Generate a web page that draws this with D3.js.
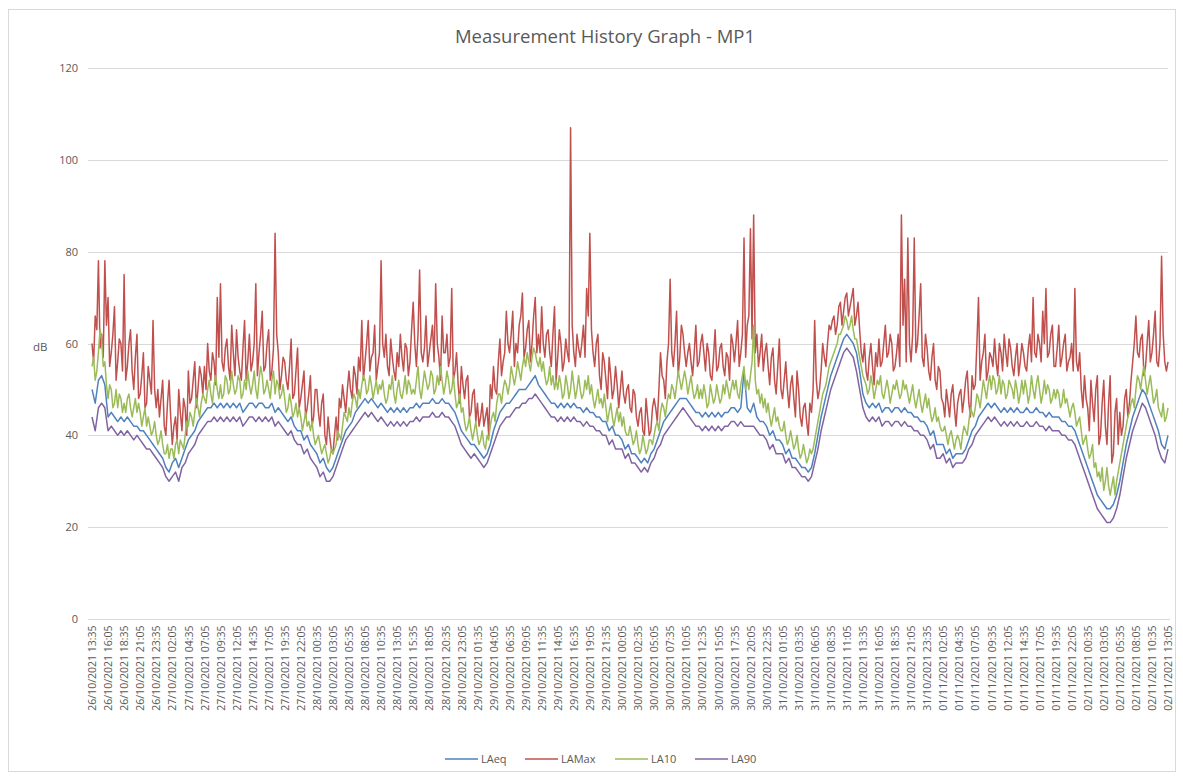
<!DOCTYPE html>
<html>
<head>
<meta charset="utf-8">
<script src="https://d3js.org/d3.v7.min.js"></script>
<style>
body { margin: 0; background: #ffffff; }
text { font-family: "Open Sans", "Liberation Sans", sans-serif; fill: #595959; }
</style>
</head>
<body>
<div id="chart"></div>
<script>
// LAeq / LA90 read every 30 minutes, LAMax / LA10 every 15 minutes,
// all starting 26/10/2021 13:35
const tickLabels = [
  "26/10/2021 13:35", "26/10/2021 16:05", "26/10/2021 18:35", "26/10/2021 21:05", "26/10/2021 23:35",
  "27/10/2021 02:05", "27/10/2021 04:35", "27/10/2021 07:05", "27/10/2021 09:35", "27/10/2021 12:05",
  "27/10/2021 14:35", "27/10/2021 17:05", "27/10/2021 19:35", "27/10/2021 22:05",
  "28/10/2021 00:35", "28/10/2021 03:05", "28/10/2021 05:35", "28/10/2021 08:05", "28/10/2021 10:35",
  "28/10/2021 13:05", "28/10/2021 15:35", "28/10/2021 18:05", "28/10/2021 20:35", "28/10/2021 23:05",
  "29/10/2021 01:35", "29/10/2021 04:05", "29/10/2021 06:35", "29/10/2021 09:05", "29/10/2021 11:35",
  "29/10/2021 14:05", "29/10/2021 16:35", "29/10/2021 19:05", "29/10/2021 21:35",
  "30/10/2021 00:05", "30/10/2021 02:35", "30/10/2021 05:05", "30/10/2021 07:35", "30/10/2021 10:05",
  "30/10/2021 12:35", "30/10/2021 15:05", "30/10/2021 17:35", "30/10/2021 20:05", "30/10/2021 22:35",
  "31/10/2021 01:05", "31/10/2021 03:35", "31/10/2021 06:05", "31/10/2021 08:35", "31/10/2021 11:05",
  "31/10/2021 13:35", "31/10/2021 16:05", "31/10/2021 18:35", "31/10/2021 21:05", "31/10/2021 23:35",
  "01/11/2021 02:05", "01/11/2021 04:35", "01/11/2021 07:05", "01/11/2021 09:35", "01/11/2021 12:05",
  "01/11/2021 14:35", "01/11/2021 17:05", "01/11/2021 19:35", "01/11/2021 22:05",
  "02/11/2021 00:35", "02/11/2021 03:05", "02/11/2021 05:35", "02/11/2021 08:05", "02/11/2021 10:35",
  "02/11/2021 13:05"
];
const tickStepMinutes = 150;

const yTicks = [0, 20, 40, 60, 80, 100, 120];

const laeq = [
  50,47,52,53,51, 44,45,44,43,44, 43,44,43,42,42, 41,41,40,39,38, 37,36,35,33,32,
  34,35,33,35,37, 39,40,41,43,44, 45,46,46,47,46, 47,46,47,46,47, 46,47,45,46,47,
  47,46,47,47,46, 46,47,45,46,45, 44,43,44,42,41, 41,39,40,38,37, 36,34,35,33,32,
  33,35,37,39,41, 42,43,45,46,47, 48,47,48,47,46, 47,46,45,46,45, 46,45,46,45,46,
  46,47,46,47,47, 47,48,47,47,48, 47,47,46,45,43, 41,40,39,38,38, 37,36,35,36,38,
  41,43,45,46,47, 47,48,49,50,50, 50,51,52,53,51, 50,49,48,47,47, 46,47,46,47,46,
  47,46,46,45,46, 45,45,44,44,43, 43,41,42,40,40, 39,37,38,36,36, 35,34,35,34,36,
  37,39,41,43,44, 45,46,47,48,48, 48,47,46,45,45, 44,45,44,45,44, 45,44,45,45,46,
  46,45,46,54,46, 45,47,44,43,43, 42,40,41,39,39, 38,36,37,35,35, 34,33,33,32,33,
  36,40,44,47,50, 53,55,57,59,61, 62,61,60,58,54, 49,47,46,47,46, 47,45,46,46,45,
  46,46,45,46,45, 45,44,44,43,43, 42,40,41,38,38, 38,36,37,35,36, 36,36,37,39,41,
  42,44,45,46,47, 46,47,46,45,46, 45,46,45,46,45, 45,46,45,45,46, 45,45,44,45,44,
  44,44,43,43,42, 42,41,39,37,35, 33,31,29,27,26, 25,24,24,25,27, 30,34,38,41,44,
  46,48,50,49,47, 45,43,41,38,37, 40
];

const lamax = [
  60,56,66,63,78,59,62,57,78,64, 70,55,58,62,68,52,56,61,60,54,
  75,52,55,60,63,54,50,57,62,48, 49,53,58,46,47,55,52,49,65,50,
  46,50,44,48,52,42,40,47,52,44, 38,42,44,39,50,45,41,48,46,40,
  54,47,48,52,56,46,50,55,53,49, 55,50,60,54,52,58,56,51,70,57,
  73,56,54,59,61,55,52,64,58,53, 63,57,54,52,59,65,52,56,62,54,
  56,60,73,53,58,62,67,54,55,60, 63,52,54,59,84,62,58,50,53,57,
  56,52,50,55,61,48,49,54,59,46, 48,51,54,44,46,49,53,42,44,50,
  50,45,42,47,49,40,38,44,40,37, 36,40,44,39,48,46,51,48,45,50,
  54,50,48,55,53,49,57,54,65,52, 56,60,65,54,57,58,64,52,55,58,
  78,60,57,62,55,53,61,57,54,52, 58,55,62,57,54,60,59,53,56,63,
  69,60,55,62,76,58,56,59,66,55, 58,61,64,56,73,60,57,52,66,58,
  58,62,55,57,72,52,54,58,51,47, 55,51,48,52,53,44,45,49,50,43,
  47,42,44,47,42,44,46,40,51,48, 55,50,49,56,61,53,56,58,67,60,
  58,62,67,55,60,58,64,66,71,57, 59,63,65,56,60,66,70,58,62,58,
  68,60,57,62,63,58,55,62,68,52, 57,63,60,54,56,61,58,56,107,64,
  58,55,62,59,57,60,64,57,72,66, 84,63,58,55,60,62,53,50,58,56,
  52,48,57,53,48,50,55,51,46,50, 54,49,47,50,51,46,45,50,49,44,
  42,45,46,41,40,48,44,40,41,46, 48,46,43,50,58,53,52,48,56,60,
  74,58,55,60,67,53,57,64,62,58, 55,58,60,56,53,58,64,55,56,60,
  62,58,54,60,58,53,52,57,63,54, 55,59,60,55,53,58,57,52,62,60,
  56,60,65,55,58,62,83,57,64,66, 85,61,88,58,62,55,58,62,54,58,
  60,55,51,57,59,52,49,55,61,50, 48,52,56,50,46,51,53,48,44,54,
  50,44,42,46,47,43,40,47,45,50, 65,52,48,50,54,60,57,55,60,64,
  63,65,66,62,64,68,69,64,67,70, 71,66,68,70,72,64,66,69,63,58,
  56,60,54,52,57,60,55,51,58,55, 61,55,56,60,64,57,58,62,60,54,
  55,58,62,55,88,64,74,56,83,60, 56,62,83,58,60,66,73,57,55,62,
  59,54,52,57,60,52,50,55,54,48, 47,44,50,47,44,49,51,46,42,47,
  49,50,45,48,52,54,47,44,53,50, 51,60,70,52,56,58,62,52,54,58,
  57,55,61,56,53,60,58,54,62,58, 55,61,59,55,53,57,60,53,56,60,
  58,55,54,59,62,56,70,58,57,62, 60,56,67,60,72,57,58,62,64,55,
  55,59,64,55,57,60,62,54,56,57, 60,54,72,56,54,58,50,46,53,48,
  46,41,52,47,43,50,53,38,40,47, 52,42,38,47,53,34,36,45,48,38,
  45,40,42,48,50,44,47,52,56,60, 66,58,57,61,62,53,55,60,65,56,
  58,62,67,56,55,60,79,62,56,54, 56
];

const la10 = [
  55,57,52,54,58,63,61,55,56,51, 48,51,50,46,47,50,46,49,48,45,
  47,45,48,49,46,44,46,48,45,47, 45,42,44,46,42,44,42,40,41,43,
  40,38,39,41,38,36,36,38,35,37, 37,35,38,39,36,39,38,37,40,43,
  42,45,44,42,45,48,46,44,47,49, 48,47,50,52,49,47,51,53,50,48,
  51,48,49,53,52,49,50,54,51,49, 50,53,52,48,49,52,50,54,51,49,
  51,54,50,48,52,55,53,49,50,52, 50,48,52,54,49,52,51,48,49,51,
  48,45,46,49,47,44,45,47,44,46, 44,41,43,45,42,43,41,43,40,38,
  39,40,38,36,37,38,36,34,35,37, 36,37,38,41,40,39,42,45,44,43,
  46,44,47,49,48,46,50,48,51,53, 52,49,50,53,51,48,50,52,49,51,
  50,52,49,47,48,51,50,53,49,47, 50,52,49,48,50,53,49,52,51,49,
  50,49,52,55,50,48,51,54,52,50, 51,54,53,49,50,53,51,55,52,49,
  51,54,52,49,50,53,49,46,47,49, 45,46,43,41,42,44,41,39,41,43,
  40,38,39,41,38,37,40,39,42,44, 45,43,47,49,49,47,50,52,51,49,
  51,55,53,51,53,56,54,52,55,57, 55,58,56,54,57,59,58,56,55,57,
  54,56,53,51,52,55,51,53,50,52, 50,53,51,48,49,53,51,48,50,54,
  51,48,50,53,50,48,49,52,50,53, 49,51,48,46,48,50,47,48,46,49,
  46,43,45,47,44,42,44,46,43,45, 42,44,41,40,40,42,40,38,39,41,
  38,36,37,40,38,36,37,39,39,38, 40,42,43,41,45,47,46,44,47,49,
  48,51,50,48,51,54,52,50,52,54, 52,49,51,53,50,48,49,51,48,50,
  48,51,49,46,47,51,49,47,48,51, 49,47,48,51,49,52,50,48,50,52,
  50,52,49,48,51,53,55,50,52,50, 53,56,64,52,49,50,47,49,46,48,
  45,47,44,42,44,46,43,44,42,41, 41,43,40,38,39,41,39,37,38,40,
  37,35,36,38,36,34,35,37,36,37, 39,41,43,45,47,49,50,51,53,55,
  56,57,58,59,60,62,62,63,64,66, 65,63,64,66,63,61,61,59,57,55,
  53,52,51,49,50,53,51,48,50,52, 51,53,49,48,50,52,50,47,49,51,
  50,52,50,48,49,52,50,51,49,47, 49,51,48,46,48,50,47,45,47,49,
  46,48,45,43,44,46,43,44,42,41, 41,42,40,38,40,41,39,37,39,40,
  39,37,40,42,41,40,43,46,45,44, 46,49,48,46,49,52,50,48,51,53,
  50,53,52,49,50,53,49,52,51,48, 49,52,51,50,48,52,50,47,49,52,
  49,52,50,47,49,53,50,48,51,53, 50,47,49,52,49,51,50,47,48,50,
  48,50,49,46,47,50,47,48,46,44, 46,47,45,42,43,44,41,38,39,40,
  37,35,36,38,33,34,31,32,30,33, 28,30,33,29,27,29,31,27,30,32,
  34,36,38,40,42,44,45,47,48,46, 50,53,52,50,53,55,52,49,51,53,
  50,47,48,50,46,45,44,47,43,44, 46
];

const la90 = [
  44,41,46,47,46, 41,42,41,40,41, 40,41,40,39,40, 39,38,37,37,36, 35,34,33,31,30,
  31,32,30,33,34, 36,37,38,40,41, 42,43,43,44,43, 44,43,44,43,44, 43,44,42,43,44,
  44,43,44,43,44, 43,44,42,43,42, 41,40,41,39,38, 38,36,37,35,34, 33,31,32,30,30,
  31,33,35,37,39, 40,41,42,43,44, 45,44,45,44,43, 44,43,42,43,42, 43,42,43,42,43,
  43,44,43,44,44, 44,45,44,44,45, 44,44,43,42,40, 38,37,36,35,36, 35,34,33,34,36,
  38,40,42,43,44, 44,45,46,46,47, 47,48,48,49,48, 47,46,45,44,44, 43,44,43,44,43,
  44,43,43,42,43, 42,42,41,41,40, 40,38,39,37,37, 37,35,36,34,34, 33,32,33,32,34,
  35,37,38,40,41, 42,43,44,45,46, 45,44,43,42,42, 41,42,41,42,41, 42,41,42,42,43,
  43,42,43,42,42, 42,42,41,40,40, 39,37,38,36,36, 36,34,35,33,33, 32,31,31,30,31,
  34,37,41,44,47, 50,52,54,56,58, 59,58,57,54,50, 46,44,43,44,43, 44,42,43,43,42,
  43,43,42,43,42, 42,41,41,40,40, 39,37,38,35,35, 36,34,35,33,34, 34,34,35,37,38,
  40,41,42,43,44, 43,44,43,42,43, 42,43,42,43,42, 42,43,42,42,43, 42,42,41,42,41,
  41,41,40,40,39, 39,38,36,34,32, 30,28,26,24,23, 22,21,21,22,24, 27,31,35,38,41,
  43,45,47,46,44, 42,40,37,35,34, 37
];

const seriesNames = ["LAeq", "LAMax", "LA10", "LA90"];
const seriesValues = [laeq, lamax, la10, la90];
const seriesStepMinutes = [30, 15, 15, 30];
const seriesColors = ["#4F81BD", "#C0504D", "#9BBB59", "#8064A2"];

const W = 1183, H = 779;
const margin = {left: 92, right: 15, top: 68, bottom: 160};

const svg = d3.select("#chart").append("svg")
  .attr("width", W)
  .attr("height", H);

// chart frame
svg.append("rect")
  .attr("x", 8.5).attr("y", 9.5)
  .attr("width", 1167).attr("height", 762)
  .attr("fill", "#ffffff")
  .attr("stroke", "#d9d9d9");

svg.append("text")
  .attr("x", 605).attr("y", 43)
  .attr("text-anchor", "middle")
  .style("font-size", "18.5px")
  .text("Measurement History Graph - MP1");

const totalMinutes = (tickLabels.length - 1) * tickStepMinutes;

const x = d3.scaleLinear()
  .domain([0, totalMinutes])
  .range([margin.left, W - margin.right]);

const y = d3.scaleLinear()
  .domain([0, 120])
  .range([H - margin.bottom, margin.top]);

// gridlines
svg.append("g")
  .selectAll("line")
  .data(yTicks.filter(d => d > 0))
  .join("line")
  .attr("x1", 88).attr("x2", W - margin.right)
  .attr("y1", d => Math.round(y(d)) + 0.5)
  .attr("y2", d => Math.round(y(d)) + 0.5)
  .attr("stroke", "#d9d9d9")
  .attr("stroke-width", 1);

// y axis labels
const yAxis = svg.append("g")
  .attr("transform", "translate(78,0)")
  .call(d3.axisLeft(y).tickValues(yTicks).tickSize(0).tickPadding(0));
yAxis.select(".domain").remove();
yAxis.selectAll("text")
  .style("font-size", "11px")
  .style("font-family", "'Open Sans', sans-serif")
  .attr("fill", "#595959");

svg.append("text")
  .attr("x", 33).attr("y", 351)
  .style("font-size", "11.5px")
  .text("dB");

// x axis
const xAxis = svg.append("g")
  .attr("transform", "translate(0," + (Math.round(y(0)) + 0.5) + ")")
  .call(d3.axisBottom(x)
    .tickValues(d3.range(tickLabels.length).map(i => i * tickStepMinutes))
    .tickFormat((d, i) => tickLabels[i])
    .tickSize(0));
xAxis.select(".domain")
  .attr("d", "M88,0H" + (W - margin.right + 2))
  .attr("stroke", "#d9d9d9");
xAxis.selectAll("text")
  .attr("transform", "rotate(-90)")
  .attr("x", -6)
  .attr("y", 0)
  .attr("dy", "0.35em")
  .attr("text-anchor", "end")
  .style("font-size", "10.5px")
  .style("font-family", "'Open Sans', sans-serif")
  .attr("fill", "#595959");

// series lines, drawn in legend order
svg.append("g")
  .selectAll("path")
  .data(seriesValues)
  .join("path")
  .attr("d", (d, s) => d3.line()
    .x((v, i) => x(i * seriesStepMinutes[s]))
    .y(v => y(v))(d))
  .attr("fill", "none")
  .attr("stroke", (d, i) => seriesColors[i])
  .attr("stroke-width", 1.5)
  .attr("stroke-linejoin", "round");

// legend
const legendX = [445, 525, 615, 695];
const legend = svg.append("g")
  .selectAll("g")
  .data(seriesNames)
  .join("g")
  .attr("transform", (d, i) => "translate(" + legendX[i] + ",759)");
legend.append("line")
  .attr("x1", 0).attr("x2", 33)
  .attr("y1", 0).attr("y2", 0)
  .attr("stroke", (d, i) => seriesColors[i])
  .attr("stroke-width", 1.5);
legend.append("text")
  .attr("x", 36).attr("y", 4)
  .style("font-size", "11px")
  .text(d => d);
</script>
</body>
</html>
